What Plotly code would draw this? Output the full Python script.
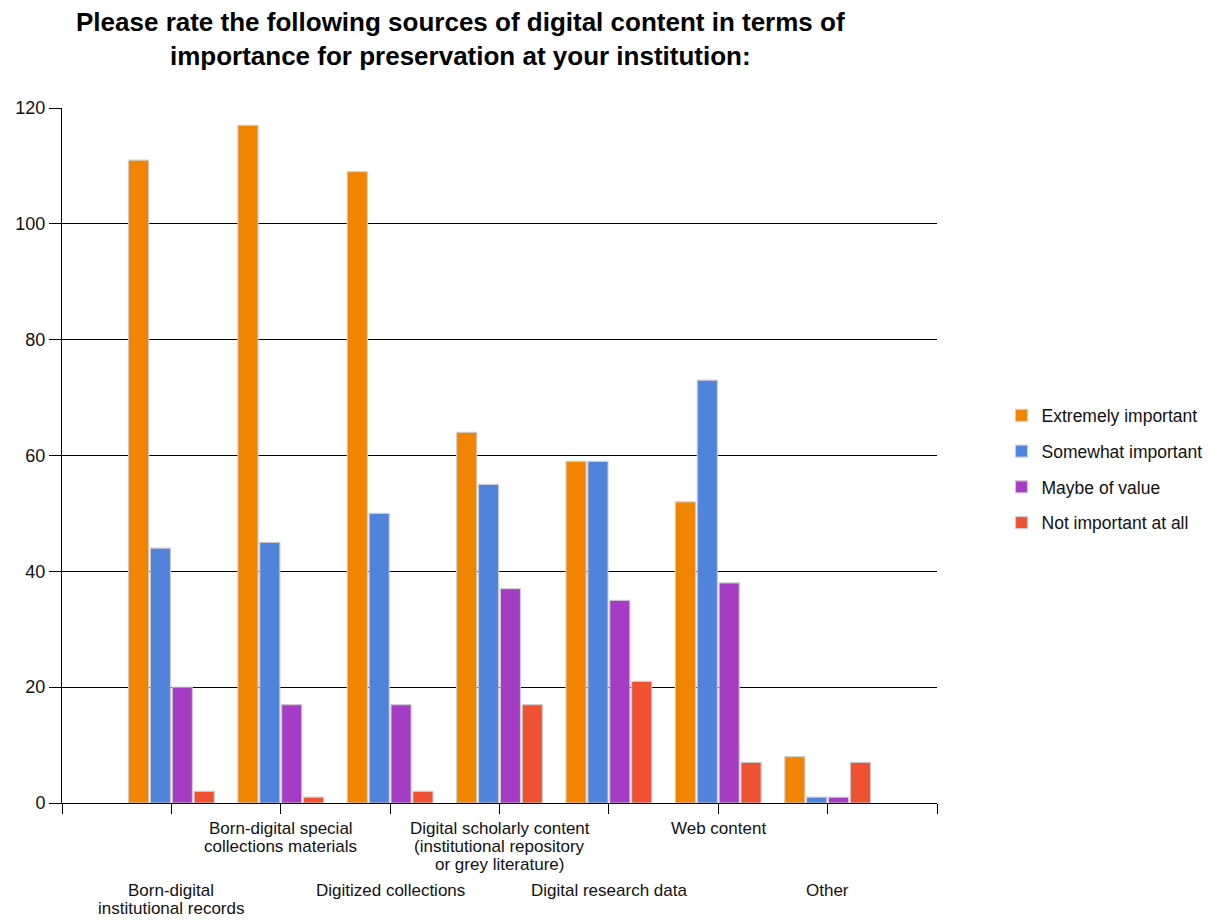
import plotly.graph_objects as go

categories = [
    "Born-digital<br>institutional records",
    "Born-digital special<br>collections materials",
    "Digitized collections",
    "Digital scholarly content<br>(institutional repository<br>or grey literature)",
    "Digital research data",
    "Web content",
    "Other",
]
label_row = [2, 1, 2, 1, 2, 1, 2]  # staggered label rows

series_names = ["Extremely important", "Somewhat important", "Maybe of value", "Not important at all"]
extremely = [111, 117, 109, 64, 59, 52, 8]
somewhat = [44, 45, 50, 55, 59, 73, 1]
maybe = [20, 17, 17, 37, 35, 38, 1]
not_important = [2, 1, 2, 17, 21, 7, 7]
series_values = [extremely, somewhat, maybe, not_important]
colors = ["#F28500", "#5083DA", "#A43DC4", "#EF5233"]

y_ticks = [0, 20, 40, 60, 80, 100, 120]

title_text = ("Please rate the following sources of digital content in terms of<br>"
              "importance for preservation at your institution:")

x_pos = list(range(1, len(categories) + 1))

font_family = "Liberation Sans, Arial, sans-serif"

fig = go.Figure()
for name, vals, col in zip(series_names, series_values, colors):
    fig.add_trace(go.Bar(
        x=x_pos, y=vals, name=name, legendgroup=name,
        marker=dict(color=col, line=dict(color="rgba(205,205,205,0.9)", width=1.2)),
    ))

# staggered category labels, one annotation per text line
row_first_shift = {1: -25, 2: -87}
line_pitch = 18
for xp, lab, row in zip(x_pos, categories, label_row):
    for i, line in enumerate(lab.split("<br>")):
        fig.add_annotation(
            x=xp, y=0, xref="x", yref="paper", text=line, showarrow=False,
            xanchor="center", yanchor="middle",
            yshift=row_first_shift[row] - i * line_pitch,
            font=dict(family=font_family, size=17, color="#111"),
        )

# title
fig.add_annotation(
    x=0.4549, y=1.0995, xref="paper", yref="paper", text=title_text,
    showarrow=False, xanchor="center", yanchor="middle", align="center",
    font=dict(family=font_family, size=26, color="#000", weight="bold"),
)

fig.update_layout(
    width=1205, height=912,
    margin=dict(l=54, r=276, t=100, b=117, autoexpand=False),
    paper_bgcolor="white", plot_bgcolor="white",
    barmode="group", bargap=0.2, bargroupgap=0.08,
    legend=dict(
        x=0.8245, xref="container", xanchor="left",
        y=0.4806, yanchor="middle",
        font=dict(family=font_family, size=17.5, color="#111"),
        tracegroupgap=10, traceorder="grouped",
        bgcolor="rgba(0,0,0,0)",
    ),
    xaxis=dict(
        range=[0, 8], tickvals=list(range(0, 9)), ticktext=[""] * 9,
        ticks="outside", ticklen=10, tickcolor="#000", tickwidth=1,
        showline=True, linecolor="#000", linewidth=1,
        showgrid=False, zeroline=False, fixedrange=True,
    ),
    yaxis=dict(
        range=[0, 120], tickvals=y_ticks,
        ticks="outside", ticklen=12, tickcolor="#000", tickwidth=1,
        showline=True, linecolor="#000", linewidth=1,
        showgrid=True, gridcolor="#000", gridwidth=1,
        zeroline=False,
        tickfont=dict(family=font_family, size=18, color="#111"),
    ),
)

fig.write_html("out.html")
